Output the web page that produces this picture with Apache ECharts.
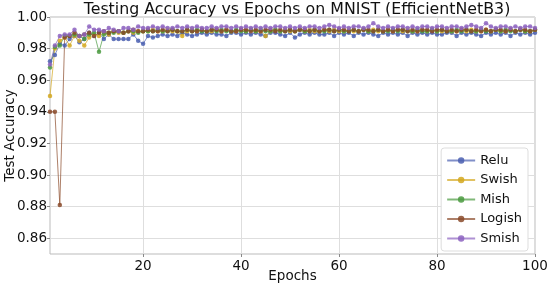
<!DOCTYPE html>
<html><head><meta charset="utf-8">
<script src="https://cdn.jsdelivr.net/npm/echarts@6/dist/echarts.min.js"></script>
<style>html,body{margin:0;padding:0;background:#fff}#c{width:550px;height:288px}</style>
</head><body><div id="c"></div>
<script>
const epochs = Array.from({length:100},(_,i)=>i+1);
const relu = [0.972,0.976,0.983,0.982,0.986,0.988,0.984,0.986,0.990,0.988,
0.990,0.986,0.989,0.986,0.986,0.986,0.986,0.989,0.985,0.983,
0.988,0.987,0.988,0.989,0.988,0.989,0.988,0.990,0.989,0.988,
0.989,0.990,0.989,0.990,0.989,0.989,0.988,0.990,0.990,0.989,
0.990,0.989,0.990,0.989,0.988,0.990,0.990,0.989,0.988,0.990,
0.987,0.989,0.990,0.989,0.990,0.989,0.989,0.990,0.988,0.990,
0.989,0.990,0.988,0.990,0.989,0.990,0.989,0.988,0.990,0.989,
0.990,0.989,0.990,0.988,0.990,0.989,0.990,0.989,0.990,0.989,
0.989,0.990,0.990,0.988,0.990,0.989,0.990,0.989,0.988,0.990,
0.989,0.990,0.989,0.990,0.988,0.990,0.989,0.990,0.989,0.990];
const swish = [0.950,0.980,0.985,0.987,0.982,0.988,0.985,0.982,0.987,0.989,
0.988,0.990,0.989,0.991,0.990,0.990,0.991,0.990,0.991,0.991,
0.991,0.992,0.991,0.991,0.992,0.991,0.991,0.988,0.991,0.992,
0.991,0.992,0.991,0.991,0.992,0.991,0.992,0.991,0.991,0.992,
0.991,0.992,0.991,0.991,0.988,0.991,0.992,0.991,0.992,0.991,
0.991,0.992,0.991,0.992,0.991,0.991,0.992,0.991,0.992,0.991,
0.991,0.992,0.991,0.991,0.992,0.991,0.992,0.991,0.991,0.992,
0.991,0.992,0.991,0.992,0.991,0.991,0.992,0.991,0.992,0.991,
0.991,0.992,0.991,0.991,0.992,0.991,0.992,0.991,0.991,0.992,
0.991,0.992,0.991,0.991,0.992,0.991,0.992,0.991,0.991,0.992];
const mish = [0.968,0.981,0.982,0.988,0.988,0.989,0.988,0.986,0.989,0.990,
0.978,0.989,0.990,0.990,0.991,0.990,0.991,0.991,0.990,0.991,
0.991,0.991,0.992,0.991,0.991,0.992,0.991,0.991,0.992,0.991,
0.992,0.991,0.991,0.992,0.991,0.992,0.991,0.991,0.992,0.991,
0.991,0.992,0.991,0.992,0.991,0.991,0.992,0.991,0.991,0.992,
0.991,0.992,0.991,0.991,0.992,0.991,0.991,0.992,0.991,0.992,
0.991,0.991,0.992,0.991,0.992,0.991,0.991,0.992,0.991,0.991,
0.992,0.991,0.992,0.991,0.991,0.992,0.991,0.991,0.992,0.991,
0.992,0.991,0.991,0.992,0.991,0.992,0.991,0.991,0.992,0.991,
0.991,0.992,0.991,0.992,0.991,0.991,0.992,0.991,0.991,0.992];
const logish = [0.940,0.940,0.881,0.987,0.988,0.990,0.988,0.989,0.990,0.988,
0.990,0.991,0.990,0.991,0.991,0.990,0.991,0.992,0.991,0.991,
0.992,0.991,0.991,0.992,0.991,0.992,0.991,0.991,0.992,0.991,
0.991,0.992,0.991,0.992,0.992,0.991,0.992,0.991,0.991,0.992,
0.992,0.991,0.992,0.991,0.992,0.992,0.991,0.992,0.991,0.992,
0.991,0.992,0.992,0.991,0.992,0.991,0.992,0.992,0.991,0.992,
0.992,0.991,0.992,0.991,0.992,0.992,0.991,0.992,0.991,0.992,
0.991,0.992,0.992,0.991,0.992,0.991,0.992,0.992,0.991,0.992,
0.992,0.991,0.992,0.991,0.992,0.992,0.991,0.992,0.991,0.992,
0.991,0.992,0.992,0.991,0.992,0.991,0.992,0.992,0.991,0.992];
const smish = [0.970,0.982,0.988,0.989,0.989,0.992,0.988,0.989,0.994,0.992,
0.992,0.991,0.993,0.992,0.991,0.993,0.993,0.992,0.994,0.993,
0.993,0.994,0.993,0.994,0.993,0.993,0.994,0.993,0.994,0.993,
0.994,0.993,0.993,0.994,0.993,0.994,0.994,0.993,0.994,0.993,
0.994,0.993,0.994,0.993,0.994,0.993,0.994,0.994,0.993,0.994,
0.993,0.994,0.993,0.994,0.994,0.993,0.994,0.995,0.994,0.993,
0.994,0.993,0.994,0.994,0.993,0.994,0.996,0.994,0.993,0.994,
0.993,0.994,0.994,0.993,0.994,0.993,0.994,0.994,0.993,0.994,
0.994,0.993,0.994,0.994,0.993,0.994,0.995,0.994,0.993,0.996,
0.994,0.993,0.994,0.994,0.993,0.994,0.993,0.994,0.994,0.993];
const names = ['Relu','Swish','Mish','Logish','Smish'];
const colors = ['#4a5fb0','#d4a820','#4a9a40','#8a4a2a','#8c62c0'];
const values = [relu, swish, mish, logish, smish];
const xTicks = [20,40,60,80,100];
const yTicks = [0.86,0.88,0.90,0.92,0.94,0.96,0.98,1.00];

const chart = echarts.init(document.getElementById('c'), null, {renderer:'canvas'});
chart.setOption({
  animation:false,
  textStyle:{fontFamily:'DejaVu Sans'},
  title:{text:'Testing Accuracy vs Epochs on MNIST (EfficientNetB3)',left:292,textAlign:'center',top:-3,
    textStyle:{fontSize:15.8,fontWeight:'normal',color:'#111',fontFamily:'DejaVu Sans'}},
  grid:{left:50,right:15,top:17,bottom:34,show:true,borderColor:'#bbb',borderWidth:1,outerBoundsMode:'none',containLabel:false},
  legend:{orient:'vertical',right:22,top:148,itemWidth:28,itemHeight:8,itemGap:6.5,
    backgroundColor:'#fff',borderColor:'#ddd',borderWidth:1,borderRadius:3,padding:[6,6,6,5],
    textStyle:{fontSize:13,color:'#111',fontFamily:'DejaVu Sans'},data:names},
  xAxis:{type:'value',min:1,max:100,name:'Epochs',nameLocation:'middle',nameGap:15,nameMoveOverlap:false,
    nameTextStyle:{fontSize:13.5,color:'#111',verticalAlign:'top'},
    axisLine:{show:false},
    axisTick:{show:true,customValues:xTicks,length:3,lineStyle:{color:'#888'}},
    axisLabel:{customValues:xTicks,fontSize:13.5,color:'#111',margin:5},
    splitLine:{show:true,lineStyle:{color:'#dedede',width:1}}},
  yAxis:{type:'value',min:0.85,max:1.0,name:'Test Accuracy',nameLocation:'middle',nameGap:33,nameMoveOverlap:false,
    nameTextStyle:{fontSize:13.5,color:'#111'},
    axisLine:{show:false},
    axisTick:{show:true,customValues:yTicks,length:3,lineStyle:{color:'#888'}},
    axisLabel:{customValues:yTicks,fontSize:13.5,color:'#111',margin:3,formatter:v=>v.toFixed(2)},
    splitLine:{show:true,lineStyle:{color:'#dedede',width:1}}},
  series: names.map((n,i)=>({
    name:n,type:'line',data:epochs.map((e,j)=>[e,values[i][j]]),
    symbol:'circle',symbolSize:4.5,showSymbol:true,
    itemStyle:{color:colors[i],opacity:0.85},
    lineStyle:{color:colors[i],width:1,opacity:0.7}
  }))
});
</script></body></html>
